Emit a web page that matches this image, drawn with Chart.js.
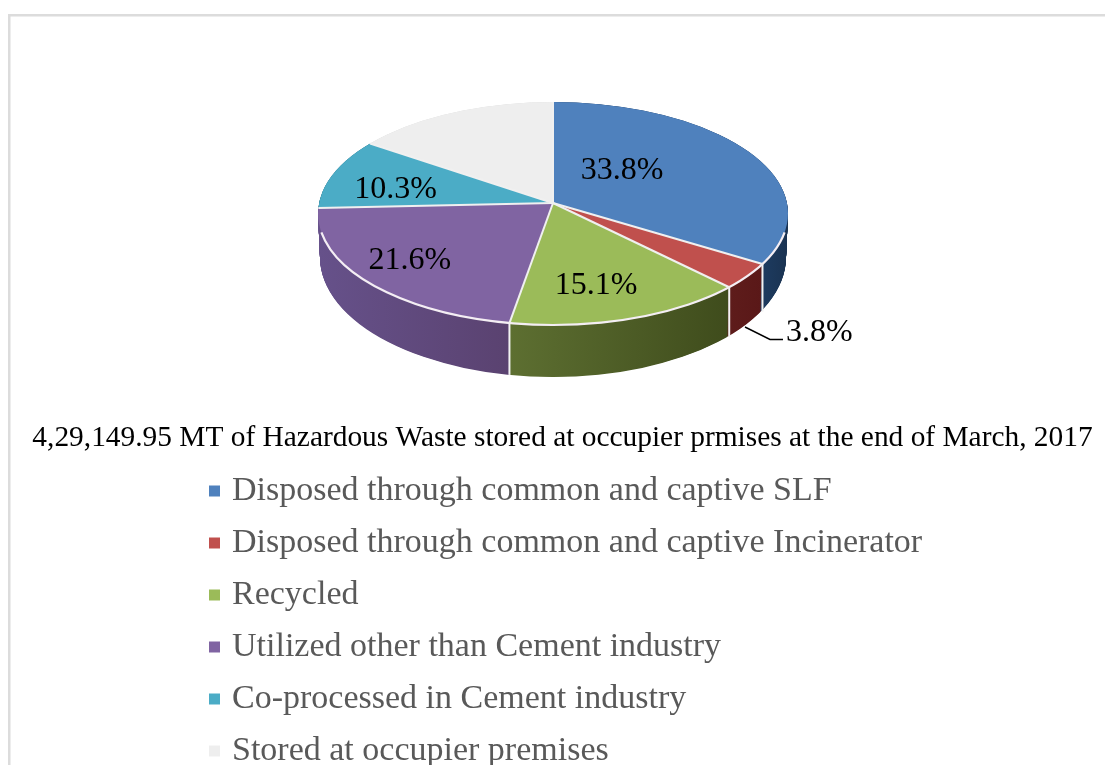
<!DOCTYPE html>
<html><head><meta charset="utf-8">
<style>html,body{margin:0;padding:0;background:#fff}canvas{display:block}</style>
<script src="https://cdn.jsdelivr.net/npm/chart.js@4"></script>
</head><body><canvas id="c" width="1105" height="765"></canvas>
<script>
const categories = ["Disposed through common and captive SLF","Disposed through common and captive Incinerator","Recycled","Utilized other than Cement industry","Co-processed in Cement industry","Stored at occupier premises"];
const shares = [33.8, 3.8, 15.1, 21.6, 10.3, 15.4];
const shareLabels = ["33.8%","3.8%","15.1%","21.6%","10.3%",""];
const topColors = ["#4f81bd","#c0504d","#9bbb59","#8064a2","#4bacc6","#eeeeee"];
const wallLeft = ["#1d3b60","#5e1c1b","#5d6f31","#66518a","#2b6f80","#dddddd"];
const wallRight = ["#1a3352","#5a1818","#3f4c1c","#5a4270","#2b6f80","#dddddd"];
const titleText = "4,29,149.95 MT of Hazardous Waste stored at occupier prmises at the end of March, 2017";

// label anchors as fractions of the pie radii, relative to the apex
const labelOffsets = [[0.294,-0.32],[0,0],[0.183,0.675],[-0.609,0.47],[-0.67,-0.135],[0,0]];
// perspective projection of the pie disc: apex, ellipse and depth
const pie = {cx:553, apexY:203, rx:235, ryUp:101, ryDown:122, ellY:213.5, ellRy:111.5, A:234, B:110.5, p:0.094, wallDrop:44, wallGrow:8, wallShrink:2};

// library arc angle -> parameter angle on the projected ellipse
function rimParam(theta){
  const s=Math.sin(theta), k=1-pie.p*s;
  const x=pie.A*Math.cos(theta)/k, y=pie.B*s/k+pie.apexY-pie.ellY;
  let f=Math.atan2(y/pie.ellRy,x/pie.rx);
  if(theta>Math.PI/2 && f<0) f+=Math.PI*2;
  return f;
}

const pie3d = {
  id:'pie3d',
  beforeDraw(chart){
    const c = chart.ctx; c.save();
    c.fillStyle='#fff'; c.fillRect(0,0,chart.width,chart.height);
    c.fillStyle='#dcdcdc';
    c.fillRect(8,14,chart.width-8,2.5);
    c.fillRect(8,14,2.5,chart.height-14);
    c.restore();
  },
  afterLayout(chart){
    const t = chart.titleBlock; t.left=0; t.right=1125; t.top=421; t.bottom=460;
    const l = chart.legend;
    l.left=196; l.right=chart.width; l.top=456; l.bottom=chart.height+200;
  },
  beforeDatasetDraw(chart,args){
    const c = chart.ctx, arcs = args.meta.data, R = arcs[0].outerRadius, ax=arcs[0].x, ay=arcs[0].y;
    const params = arcs.map(a=>[rimParam(a.startAngle),rimParam(a.endAngle)]);
    // clip to a slice's wedge, whose rays leave the apex, then fill the whole projected disc
    const wedge=(i,drop,rx,ry)=>{
      const [f0,f1]=params[i], ey=pie.ellY+drop, py=pie.apexY+drop, n=40;
      c.beginPath(); c.moveTo(pie.cx,py);
      for(let k=0;k<=n;k++){
        const f=f0+(f1-f0)*k/n;
        const x=rx*Math.cos(f), y=ey+ry*Math.sin(f)-py;
        c.lineTo(pie.cx+x*1.6,py+y*1.6);
      }
      c.closePath(); c.clip();
    };
    const drawDisc=(i,fill,rx,ey,ry)=>{
      const a=arcs[i], o=a.options, s=a.startAngle, e=a.endAngle, ci=a.circumference;
      a.options=Object.create(o); a.options.backgroundColor=fill;
      a.startAngle=0; a.endAngle=Math.PI*2; a.circumference=Math.PI*2;
      c.translate(pie.cx,ey); c.scale(rx/R,ry/R); c.translate(-ax,-ay);
      a.draw(c);
      a.options=o; a.startAngle=s; a.endAngle=e; a.circumference=ci;
    };
    const wallFill=i=>{
      const lo=Math.max(params[i][0],0), hi=Math.min(params[i][1],Math.PI);
      if(hi<=lo) return wallLeft[i];
      const g=c.createLinearGradient(ax+R*Math.cos(hi),0,ax+R*Math.cos(lo)+0.01,0);
      g.addColorStop(0,wallLeft[i]); g.addColorStop(1,wallRight[i]); return g;
    };
    // side wall: stacked copies of each slice
    for(let d=pie.wallDrop;d>=0;d-=0.5){
      const t=d/pie.wallDrop, ry=pie.ellRy+pie.wallGrow*t, rx=pie.rx-pie.wallShrink*t;
      arcs.forEach((a,i)=>{
        c.save(); wedge(i,d,rx,ry); drawDisc(i,wallFill(i),rx,pie.ellY+d,ry); c.restore();
      });
    }
    // white separators on the wall
    c.save(); c.strokeStyle='#f2f2f2'; c.lineWidth=2;
    params.forEach(p=>{
      const f=p[1]; if(f<=0||f>=Math.PI) return;
      const px=pie.cx+pie.rx*Math.cos(f), s=Math.sin(f);
      c.beginPath(); c.moveTo(px,pie.ellY+pie.ellRy*s);
      c.lineTo(px,pie.ellY+pie.wallDrop+(pie.ellRy+pie.wallGrow)*s); c.stroke();
    });
    c.restore();
    // top surface
    arcs.forEach((a,i)=>{
      c.save(); wedge(i,0,pie.rx,pie.ellRy); drawDisc(i,topColors[i],pie.rx,pie.ellY,pie.ellRy); c.restore();
    });
    // white front rim
    c.save(); c.strokeStyle='#f4eef4'; c.lineWidth=2.2;
    c.beginPath(); c.ellipse(pie.cx,pie.ellY,pie.rx,pie.ellRy,0,0.17,Math.PI-0.17); c.stroke();
    // radial separators
    c.strokeStyle='#f0f0f0'; c.lineWidth=2;
    params.forEach(p=>{
      const f=p[1];
      c.beginPath(); c.moveTo(pie.cx,pie.apexY);
      c.lineTo(pie.cx+pie.rx*Math.cos(f),pie.ellY+pie.ellRy*Math.sin(f)); c.stroke();
    });
    c.restore();
    return false;
  },
  afterDatasetsDraw(chart){
    const c=chart.ctx; c.save();
    c.font='32px "Liberation Serif"'; c.fillStyle='#000'; c.textAlign='center'; c.textBaseline='middle';
    shareLabels.forEach((s,i)=>{
      if(!s||i===1) return;
      const o=labelOffsets[i];
      c.fillText(s,pie.cx+o[0]*pie.rx,pie.apexY+o[1]*(o[1]<0?pie.ryUp:pie.ryDown));
    });
    // callout for the thin slice
    c.textAlign='left'; c.fillText(shareLabels[1],786,333);
    c.strokeStyle='#000'; c.lineWidth=1.4;
    c.beginPath(); c.moveTo(745,327); c.lineTo(770,339.5); c.lineTo(783,339.5); c.stroke();
    c.restore();
  }
};

new Chart(document.getElementById('c'),{
  type:'pie',
  data:{labels:categories,datasets:[{data:shares,backgroundColor:topColors,borderWidth:0}]},
  options:{
    responsive:false,animation:false,
    plugins:{
      tooltip:{enabled:false},
      title:{display:true,text:titleText,color:'#000',font:{family:'"Liberation Serif"',size:29.4,weight:'normal'},padding:0},
      legend:{display:true,position:'left',align:'start',
        labels:{color:'#595959',font:{family:'"Liberation Serif"',size:34},usePointStyle:true,pointStyle:'rect',boxWidth:1,boxHeight:11,padding:18}}
    }
  },
  plugins:[pie3d]
});
</script></body></html>
